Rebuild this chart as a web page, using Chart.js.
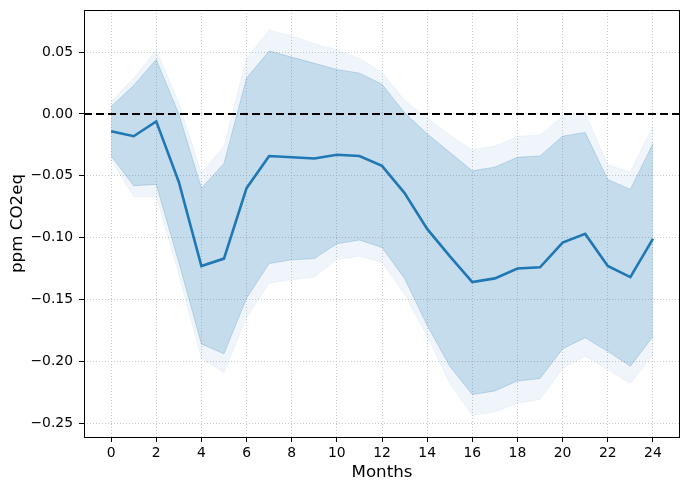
<!DOCTYPE html>
<html>
<head>
<meta charset="utf-8">
<script src="https://cdn.jsdelivr.net/npm/chart.js@4.4.1/dist/chart.umd.min.js"></script>
<style>
  html, body { margin: 0; padding: 0; background: #fff; }
  #wrap { width: 690px; height: 490px; }
</style>
</head>
<body>
<div id="wrap"><canvas id="c" width="690" height="490"></canvas></div>
<script>
// data
const months = [0, 1, 2, 3, 4, 5, 6, 7, 8, 9, 10, 11, 12, 13, 14, 15, 16, 17, 18, 19, 20, 21, 22, 23, 24];
const meanVals = [-0.014, -0.018, -0.006, -0.055, -0.123, -0.117, -0.060, -0.034, -0.035, -0.036, -0.033, -0.034, -0.042,
  -0.064, -0.093, -0.115, -0.136, -0.133, -0.125, -0.124, -0.104, -0.097, -0.123, -0.132, -0.101];
const innerHigh = [0.006, 0.023, 0.044, 0.000, -0.060, -0.040, 0.029, 0.051, 0.046, 0.041, 0.036, 0.033, 0.024,
  0.001, -0.016, -0.031, -0.046, -0.043, -0.035, -0.034, -0.018, -0.015, -0.053, -0.061, -0.024];
const innerLow = [-0.034, -0.058, -0.057, -0.120, -0.186, -0.194, -0.149, -0.121, -0.118, -0.117, -0.105, -0.102, -0.108,
  -0.133, -0.171, -0.204, -0.227, -0.224, -0.216, -0.214, -0.190, -0.181, -0.192, -0.204, -0.180];
const outerHigh = [0.010, 0.029, 0.052, 0.009, -0.048, -0.026, 0.045, 0.068, 0.063, 0.057, 0.052, 0.045, 0.034,
  0.011, -0.003, -0.017, -0.029, -0.026, -0.018, -0.017, -0.002, 0.001, -0.041, -0.047, -0.010];
const outerLow = [-0.037, -0.067, -0.067, -0.130, -0.198, -0.209, -0.165, -0.137, -0.134, -0.132, -0.118, -0.115, -0.120,
  -0.146, -0.180, -0.218, -0.244, -0.241, -0.234, -0.231, -0.206, -0.196, -0.207, -0.218, -0.195];

const xTicks = [0, 2, 4, 6, 8, 10, 12, 14, 16, 18, 20, 22, 24];
const yTicks = [0.05, 0.00, -0.05, -0.10, -0.15, -0.20, -0.25];
const xRange = [-1.2, 25.2];
const yRange = [-0.2613, 0.0841];
const refLevel = 0;

const blue = '#1f77b4';
const font = 'DejaVu Sans';

function pts(vals) {
  return months.map(function (m, i) { return { x: m, y: vals[i] }; });
}

// black box round the plot, like matplotlib spines
const framePlugin = {
  id: 'frame',
  afterDraw(chart) {
    const a = chart.chartArea;
    const ctx = chart.ctx;
    ctx.save();
    ctx.strokeStyle = '#000';
    ctx.lineWidth = 1;
    ctx.strokeRect(Math.round(a.left) + 0.5, Math.round(a.top) + 0.5,
      Math.round(a.right - a.left) - 1, Math.round(a.bottom - a.top));
    ctx.restore();
  }
};

const band = {
  pointRadius: 0,
  borderWidth: 1,
  tension: 0
};

new Chart(document.getElementById('c'), {
  type: 'line',
  data: {
    datasets: [
      {
        label: 'mean',
        data: pts(meanVals),
        borderColor: blue,
        borderWidth: 2.6,
        pointRadius: 0,
        fill: false,
        order: 0
      },
      {
        label: 'zero',
        data: [{ x: xRange[0], y: refLevel }, { x: xRange[1], y: refLevel }],
        borderColor: '#000',
        borderWidth: 2,
        borderDash: [8, 4],
        pointRadius: 0,
        fill: false,
        order: 1
      },
      Object.assign({
        label: 'inner high',
        data: pts(innerHigh),
        borderColor: 'rgba(31, 119, 180, 0.22)',
        backgroundColor: 'rgba(31, 119, 180, 0.2)',
        fill: '+1',
        order: 2
      }, band),
      Object.assign({
        label: 'inner low',
        data: pts(innerLow),
        borderColor: 'rgba(31, 119, 180, 0.22)',
        fill: false,
        order: 3
      }, band),
      Object.assign({
        label: 'outer high',
        data: pts(outerHigh),
        borderColor: 'rgba(31, 119, 180, 0.05)',
        backgroundColor: 'rgba(31, 119, 180, 0.07)',
        fill: '+1',
        order: 4
      }, band),
      Object.assign({
        label: 'outer low',
        data: pts(outerLow),
        borderColor: 'rgba(31, 119, 180, 0.05)',
        fill: false,
        order: 5
      }, band)
    ]
  },
  options: {
    responsive: false,
    devicePixelRatio: 1,
    animation: false,
    layout: { padding: { left: 0, right: 10, top: 10, bottom: 0 } },
    plugins: {
      legend: { display: false },
      tooltip: { enabled: false }
    },
    scales: {
      x: {
        type: 'linear',
        min: xRange[0],
        max: xRange[1],
        afterBuildTicks: function (scale) {
          scale.ticks = xTicks.map(function (v) { return { value: v }; });
        },
        afterFit: function (scale) {
          scale.height = 53;
          scale.paddingLeft = 0;
          scale.paddingRight = 0;
        },
        ticks: {
          color: '#000',
          font: { family: font, size: 13.9 },
          padding: 3,
          maxRotation: 0,
          autoSkip: false,
          callback: function (v) { return String(v); }
        },
        grid: {
          color: '#c4c4c4',
          lineWidth: 0.9,
          tickColor: '#000',
          tickLength: 5,
          tickWidth: 1
        },
        border: { display: false, dash: [1, 2] },
        title: {
          display: true,
          text: 'Months',
          color: '#000',
          font: { family: font, size: 16.7 },
          padding: { top: 0, bottom: 7 }
        }
      },
      y: {
        type: 'linear',
        min: yRange[0],
        max: yRange[1],
        afterBuildTicks: function (scale) {
          scale.ticks = yTicks.map(function (v) { return { value: v }; });
        },
        afterFit: function (scale) {
          scale.width = 84;
          scale.paddingTop = 0;
          scale.paddingBottom = 0;
        },
        ticks: {
          color: '#000',
          font: { family: font, size: 13.9 },
          padding: 6,
          callback: function (v) { return v.toFixed(2).replace('-', '\u2212'); }
        },
        grid: {
          color: '#c4c4c4',
          lineWidth: 0.9,
          tickColor: '#000',
          tickLength: 5,
          tickWidth: 1
        },
        border: { display: false, dash: [1, 2] },
        title: {
          display: true,
          text: 'ppm CO2eq',
          color: '#000',
          font: { family: font, size: 16.7 },
          padding: { top: 8, bottom: 0 }
        }
      }
    }
  },
  plugins: [framePlugin]
});
</script>
</body>
</html>
